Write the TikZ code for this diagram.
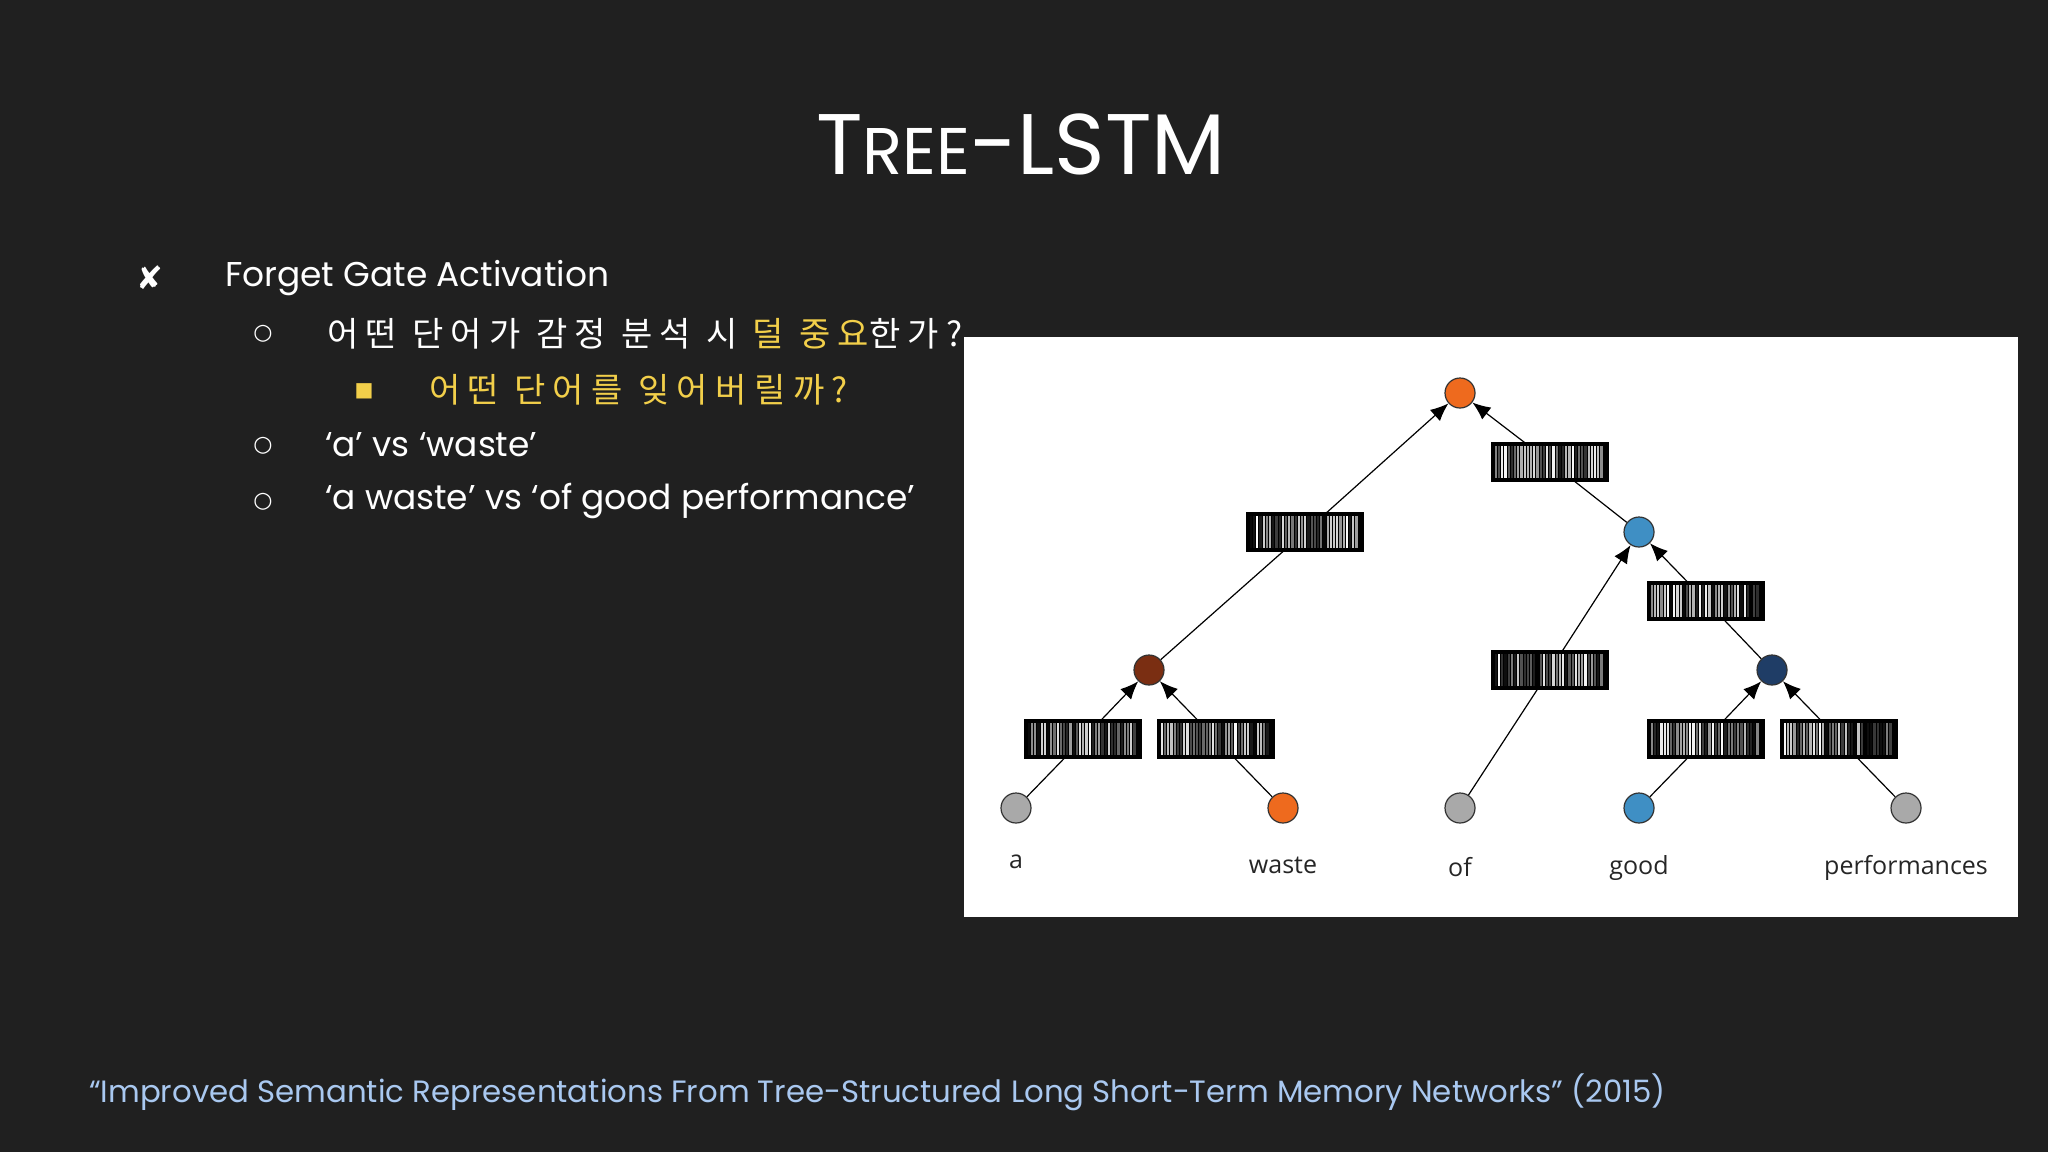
\documentclass[tikz,border=0pt]{standalone}
\usepackage{fontspec}
\setmainfont{Poppins}
\newfontfamily\kr[LetterSpace=22]{Noto Sans CJK KR}
\newfontfamily\lab{Open Sans}
\newfontfamily\dv{DejaVu Sans}
\usetikzlibrary{arrows.meta}
\definecolor{bg}{HTML}{202020}
\definecolor{ylw}{HTML}{F2CF4A}
\definecolor{foot}{HTML}{A9C8F0}
\definecolor{org}{HTML}{EE6A1E}
\definecolor{blu}{HTML}{3F8FC4}
\definecolor{brn}{HTML}{7A2E12}
\definecolor{dblu}{HTML}{1F3D66}
\definecolor{gry}{HTML}{A9A9A9}
\tikzset{
  tn/.style={circle,draw=black!80,line width=0.6pt,minimum size=15pt,inner sep=0pt},
  bar/.style={draw=black,line width=1.6pt,minimum width=56pt,minimum height=17pt,inner sep=0pt},
  edge/.style={line width=0.6pt,black},
  arr/.style={edge,-{Latex[length=9pt,width=7.5pt]}},
  wtxt/.style={text=white,anchor=west,font=\fontsize{17.2}{20}\selectfont},
  krt/.style={anchor=west,font=\kr\fontsize{17}{20}\selectfont},
  lbl/.style={font=\lab\fontsize{12.5}{15}\selectfont,text=black!85},
}
\begin{document}
\begin{tikzpicture}[x=0.5pt,y=-0.5pt]
\fill[bg] (0,0) rectangle (2048,1152);
\useasboundingbox (0,0) rectangle (2048,1152);
% title
\node[text=white,font=\fontsize{43}{47}\selectfont] (title) at (1021,144) {T{\fontsize{33}{36}\selectfont REE}-LSTM};
% bullets
\node[text=white,font=\dv\fontsize{16}{19}\selectfont] (x1) at (150,278) {✘};
\node[wtxt] (t1) at (218,278) {Forget Gate Activation};
\node[text=white,font=\dv\fontsize{11}{13}\selectfont] (c1) at (263,334) {○};
\node[krt] (t2) at (320,334) {\textcolor{white}{어떤 단어가 감정 분석 시 }\textcolor{ylw}{덜 중요}\textcolor{white}{한가?}};
\node[text=ylw,font=\dv\fontsize{10}{12}\selectfont] (s1) at (364,391) {■};
\node[krt,text=ylw] (t3) at (422,390) {어떤 단어를 잊어버릴까?};
\node[text=white,font=\dv\fontsize{11}{13}\selectfont] (c2) at (263,446) {○};
\node[wtxt] (t4) at (318,445) {‘a’ vs ‘waste’};
\node[text=white,font=\dv\fontsize{11}{13}\selectfont] (c3) at (263,502) {○};
\node[wtxt] (t5) at (318,501) {‘a waste’ vs ‘of good performance’};
% footer
\node[anchor=west,text=foot,font=\fontsize{15.4}{18}\selectfont] (foot) at (82,1092) {“Improved Semantic Representations From Tree-Structured Long Short-Term Memory Networks” (2015)};
% panel
\fill[white] (964,337) rectangle (2018,917);
% tree nodes
\node[tn,fill=org] (root) at (1460,393) {};
\node[tn,fill=blu] (mid) at (1639,532) {};
\node[tn,fill=brn] (lft) at (1149,670) {};
\node[tn,fill=dblu] (rgt) at (1772,670) {};
\node[tn,fill=gry] (la) at (1016,808) {};
\node[tn,fill=org] (lw) at (1283,808) {};
\node[tn,fill=gry] (lo) at (1460,808) {};
\node[tn,fill=blu] (lg) at (1639,808) {};
\node[tn,fill=gry] (lp) at (1906,808) {};
% bars
\node[bar] (b1) at (1550,462) {};
\node[bar] (b2) at (1305,532) {};
\node[bar] (b3) at (1706,601) {};
\node[bar] (b4) at (1550,670) {};
\node[bar] (b5) at (1083,739) {};
\node[bar] (b6) at (1216,739) {};
\node[bar] (b7) at (1706,739) {};
\node[bar] (b8) at (1839,739) {};
\pgfmathsetseed{11}
\foreach \b in {b1,b2,b3,b4,b5,b6,b7,b8}{
  \fill[black] (\b.south west) rectangle (\b.north east);
  \foreach \i in {0,...,33}{
    \pgfmathsetmacro\g{int(random(0,100))}
    \fill[black!\g] ([xshift=1.2pt+\i*1.6pt,yshift=1.3pt]\b.south west) rectangle ([xshift=1.2pt+\i*1.6pt+1.1pt,yshift=-1.3pt]\b.north west);
  }
  \draw[line width=1.6pt] (\b.south west) rectangle (\b.north east);
}
% edges
\draw[edge] (la) -- (b5); \draw[arr] (b5) -- (lft);
\draw[edge] (lw) -- (b6); \draw[arr] (b6) -- (lft);
\draw[edge] (lft) -- (b2); \draw[arr] (b2) -- (root);
\draw[edge] (mid) -- (b1); \draw[arr] (b1) -- (root);
\draw[edge] (lo) -- (b4); \draw[arr] (b4) -- (mid);
\draw[edge] (rgt) -- (b3); \draw[arr] (b3) -- (mid);
\draw[edge] (lg) -- (b7); \draw[arr] (b7) -- (rgt);
\draw[edge] (lp) -- (b8); \draw[arr] (b8) -- (rgt);
% labels
\node[lbl] (wa) at (1016,862) {a};
\node[lbl] (ww) at (1283,865) {waste};
\node[lbl] (wo) at (1460,867) {of};
\node[lbl] (wg) at (1639,868) {good};
\node[lbl] (wp) at (1906,868) {performances};
\end{tikzpicture}
\end{document}
